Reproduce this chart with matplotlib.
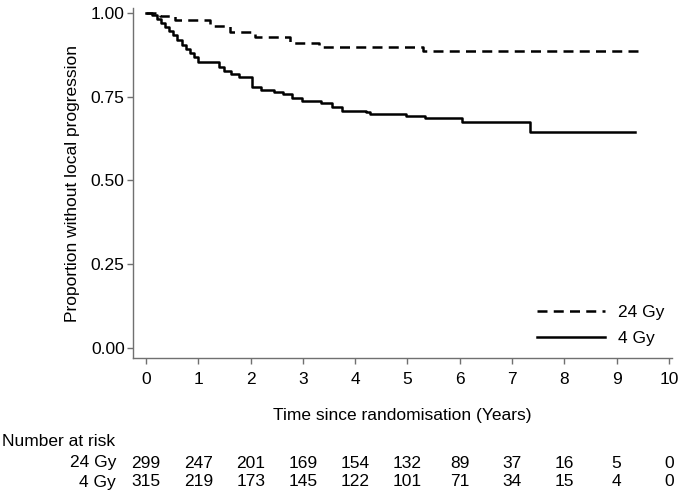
import matplotlib
matplotlib.use("Agg")
import matplotlib.pyplot as plt
from matplotlib.transforms import blended_transform_factory

plt.rcParams['font.family'] = ['Liberation Sans', 'DejaVu Sans']

# --------------------------------------------------
# Data
# --------------------------------------------------

t_24 = [0, 0.27, 0.56, 1.23, 1.6, 2.08, 2.75, 3.3, 5.3, 9.5]
s_24 = [1.0, 0.992, 0.979, 0.961, 0.944, 0.928, 0.911, 0.899, 0.887, 0.887]

t_4 = [0, 0.12, 0.2, 0.28, 0.36, 0.44, 0.52, 0.6, 0.68, 0.76, 0.84, 0.92,
       1.0, 1.4, 1.5, 1.62, 1.78, 2.02, 2.2, 2.45, 2.62, 2.8, 2.98, 3.35,
       3.55, 3.75, 4.2, 4.28, 4.98, 5.33, 6.04, 7.34, 9.35]
s_4 = [1.0, 0.994, 0.982, 0.970, 0.959, 0.947, 0.934, 0.920, 0.905, 0.892,
       0.88, 0.868, 0.855, 0.838, 0.828, 0.818, 0.809, 0.780, 0.771, 0.765,
       0.758, 0.746, 0.738, 0.731, 0.72, 0.708, 0.705, 0.699, 0.693, 0.686,
       0.676, 0.644, 0.644]

risk_times = [0, 1, 2, 3, 4, 5, 6, 7, 8, 9, 10]
risk_24 = [299, 247, 201, 169, 154, 132, 89, 37, 16, 5, 0]
risk_4 = [315, 219, 173, 145, 122, 101, 71, 34, 15, 4, 0]

yticks = [0.0, 0.25, 0.5, 0.75, 1.0]
ytick_labels = ["0.00", "0.25", "0.50", "0.75", "1.00"]

FS = 12.5
W, H = 680, 495

# --------------------------------------------------
# Figure
# --------------------------------------------------

fig = plt.figure(figsize=(6.8, 4.95), dpi=100)
ax = fig.add_axes([133 / W, 1 - 358 / H, (672 - 133) / W, (358 - 8) / H])

ax.step(t_24, s_24, where="post", color="black", lw=1.8,
        dashes=(4.0, 2.5), label="24 Gy")
ax.step(t_4, s_4, where="post", color="black", lw=1.8, label="4 Gy")

ax.set_xlim(-0.25, 10.06)
ax.set_ylim(-0.03, 1.015)
ax.set_xticks(risk_times)
ax.set_yticks(yticks)
ax.set_yticklabels(ytick_labels)

for side in ["top", "right"]:
    ax.spines[side].set_visible(False)
for side in ["left", "bottom"]:
    ax.spines[side].set_color("#707070")
    ax.spines[side].set_linewidth(1.0)

ax.tick_params(axis="x", colors="#707070", length=4, width=1.0, pad=6,
               labelsize=FS, labelcolor="black")
ax.tick_params(axis="y", colors="#707070", length=4, width=1.0, pad=2,
               labelsize=FS, labelcolor="black")

ax.set_xlabel("Time since randomisation (Years)", fontsize=FS, labelpad=15)
ax.set_ylabel("Proportion without local progression", fontsize=FS,
              labelpad=8)

leg = ax.legend(loc="lower right", bbox_to_anchor=(1.015, -0.01),
                frameon=False, fontsize=FS, handlelength=3.9,
                handletextpad=0.75, labelspacing=0.6)

# --------------------------------------------------
# Number at risk table
# --------------------------------------------------

trans = blended_transform_factory(ax.transData, fig.transFigure)

fig.text(2 / W, 1 - 441 / H, "Number at risk", fontsize=FS,
         ha="left", va="center")
fig.text(116 / W, 1 - 463 / H, "24 Gy", fontsize=FS, ha="right", va="center")
fig.text(116 / W, 1 - 482 / H, "4 Gy", fontsize=FS, ha="right", va="center")

for t, n in zip(risk_times, risk_24):
    fig.text(t, 1 - 463 / H, str(n), fontsize=FS, ha="center", va="center",
             transform=trans)
for t, n in zip(risk_times, risk_4):
    fig.text(t, 1 - 482 / H, str(n), fontsize=FS, ha="center", va="center",
             transform=trans)

fig.savefig("out.png", dpi=100)
